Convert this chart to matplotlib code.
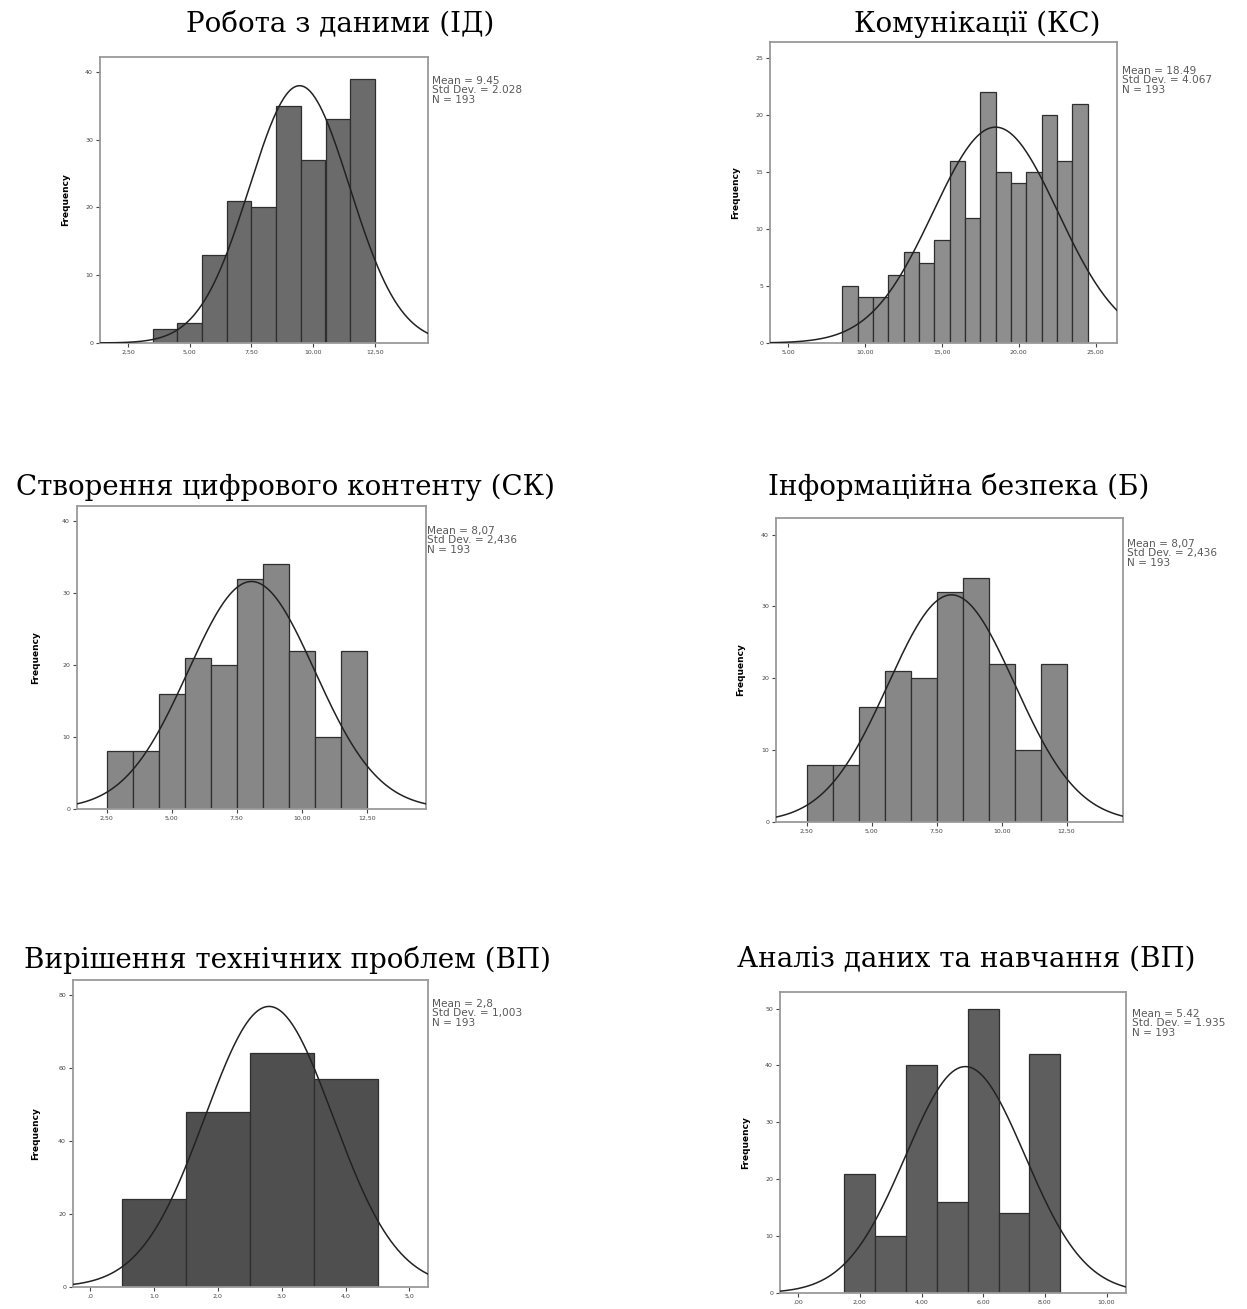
import numpy as np
import matplotlib
matplotlib.use('Agg')
import matplotlib.pyplot as plt

W, H = 1247, 1309

# дані гістограм (центри інтервалів і частоти)
titles = ['Робота з даними (ІД)', 'Комунікації (КС)',
          'Створення цифрового контенту (СК)', 'Інформаційна безпека (Б)',
          'Вирішення технічних проблем (ВП)', 'Аналіз даних та навчання (ВП)']

centers_id = [4, 5, 6, 7, 8, 9, 10, 11, 12]
counts_id = [2, 3, 13, 21, 20, 35, 27, 33, 39]

centers_ks = list(range(9, 25))
counts_ks = [5, 4, 4, 6, 8, 7, 9, 16, 11, 22, 15, 14, 15, 20, 16, 21]

centers_sk = [3, 4, 5, 6, 7, 8, 9, 10, 11, 12]
counts_sk = [8, 8, 16, 21, 20, 32, 34, 22, 10, 22]

centers_b = [3, 4, 5, 6, 7, 8, 9, 10, 11, 12]
counts_b = [8, 8, 16, 21, 20, 32, 34, 22, 10, 22]

centers_vp = [1, 2, 3, 4]
counts_vp = [24, 48, 64, 57]

centers_an = [2, 3, 4, 5, 6, 7, 8]
counts_an = [21, 10, 40, 16, 50, 14, 42]

means = [9.45, 18.49, 8.07, 8.07, 2.8, 5.42]
sds = [2.028, 4.067, 2.436, 2.436, 1.003, 1.935]
n_total = 193
stat_texts = [
    'Mean = 9.45\nStd Dev. = 2.028\nN = 193',
    'Mean = 18.49\nStd Dev. = 4.067\nN = 193',
    'Mean = 8,07\nStd Dev. = 2,436\nN = 193',
    'Mean = 8,07\nStd Dev. = 2,436\nN = 193',
    'Mean = 2,8\nStd Dev. = 1,003\nN = 193',
    'Mean = 5.42\nStd. Dev. = 1.935\nN = 193',
]

xticks_list = [
    ([2.5, 5, 7.5, 10, 12.5], ['2,50', '5,00', '7,50', '10,00', '12,50']),
    ([5, 10, 15, 20, 25], ['5,00', '10,00', '15,00', '20,00', '25,00']),
    ([2.5, 5, 7.5, 10, 12.5], ['2,50', '5,00', '7,50', '10,00', '12,50']),
    ([2.5, 5, 7.5, 10, 12.5], ['2,50', '5,00', '7,50', '10,00', '12,50']),
    ([0, 1, 2, 3, 4, 5], [',0', '1,0', '2,0', '3,0', '4,0', '5,0']),
    ([0, 2, 4, 6, 8, 10], [',00', '2,00', '4,00', '6,00', '8,00', '10,00']),
]
yticks_list = [
    [0, 10, 20, 30, 40],
    [0, 5, 10, 15, 20, 25],
    [0, 10, 20, 30, 40],
    [0, 10, 20, 30, 40],
    [0, 20, 40, 60, 80],
    [0, 10, 20, 30, 40, 50],
]

all_centers = [centers_id, centers_ks, centers_sk, centers_b, centers_vp, centers_an]
all_counts = [counts_id, counts_ks, counts_sk, counts_b, counts_vp, counts_an]

# розміщення (пікселі): left, right, top, bottom
boxes = [(100, 428, 57, 343), (770, 1117, 42, 343),
         (77, 426, 506, 809), (776, 1123, 518, 822),
         (73, 428, 980, 1287), (780, 1126, 992, 1293)]
xlims = [(1.37, 14.65), (3.8, 26.4), (1.36, 14.78), (1.32, 14.67),
         (-0.27, 5.29), (-0.59, 10.63)]
ylims = [42.2, 26.4, 42.1, 42.3, 84, 52.9]
bar_colors = ['#6b6b6b', '#8e8e8e', '#878787', '#878787', '#4f4f4f', '#5e5e5e']
title_pos = [(340, 24), (977, 24), (286, 487), (959, 487), (287, 960), (966, 960)]
stat_pos = [(432, 76), (1122, 66), (427, 526), (1127, 539), (432, 999), (1132, 1009)]
ylabel_off = [30, 30, 37, 31, 33, 30]

fig = plt.figure(figsize=(W / 100, H / 100), dpi=100)

for i in range(6):
    l, r, t, b = boxes[i]
    ax = fig.add_axes([l / W, 1 - b / H, (r - l) / W, (b - t) / H])
    ax.bar(all_centers[i], all_counts[i], width=1.0, color=bar_colors[i],
           edgecolor='#2e2e2e', linewidth=0.9, zorder=2)
    xs = np.linspace(xlims[i][0], xlims[i][1], 400)
    ys = n_total / (sds[i] * np.sqrt(2 * np.pi)) * np.exp(-0.5 * ((xs - means[i]) / sds[i]) ** 2)
    ax.plot(xs, ys, color='#222222', linewidth=1.1, zorder=3)
    ax.set_xlim(*xlims[i])
    ax.set_ylim(0, ylims[i])
    ax.set_xticks(xticks_list[i][0])
    ax.set_xticklabels(xticks_list[i][1])
    ax.set_yticks(yticks_list[i])
    ax.tick_params(labelsize=4.5, length=3, width=0.8, colors='#444444', pad=2)
    for s in ax.spines.values():
        s.set_color('#9a9a9a')
        s.set_linewidth(1.3)
    ax.set_ylabel('Frequency', fontsize=6.5, fontweight='bold', labelpad=0)
    ax.yaxis.set_label_coords(-ylabel_off[i] / (r - l), 0.5)

    fig.text(title_pos[i][0] / W, 1 - title_pos[i][1] / H, titles[i],
             family='DejaVu Serif', fontsize=20, ha='center', va='center')
    fig.text(stat_pos[i][0] / W, 1 - stat_pos[i][1] / H, stat_texts[i],
             fontsize=7.6, color='#5a5a5a', ha='left', va='top',
             linespacing=0.92)

fig.savefig('out.png', dpi=100)
